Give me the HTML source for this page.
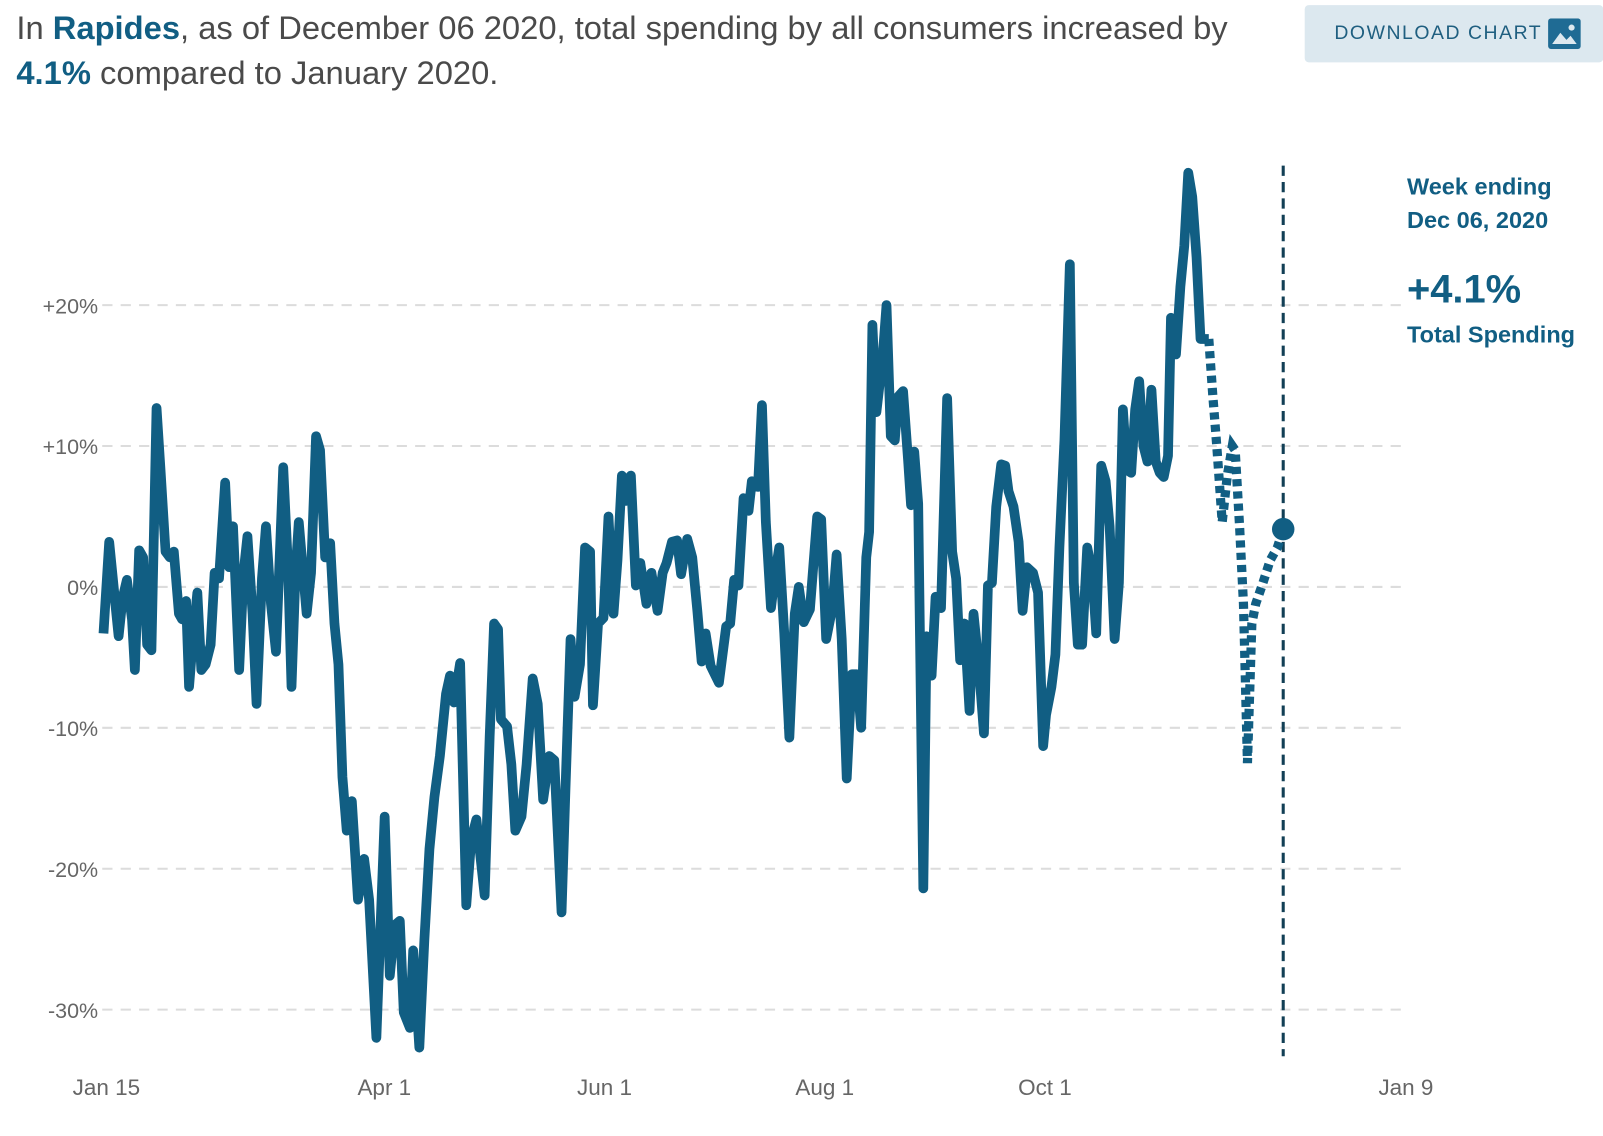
<!DOCTYPE html>
<html><head><meta charset="utf-8"><style>
html,body{margin:0;background:#fff;font-family:"Liberation Sans",sans-serif;width:1603px;height:1136px;overflow:hidden;}
#wrap{position:relative;width:1568px;height:1111px;overflow:visible;transform:scale(1.0225);transform-origin:0 0;}
.hdr{position:absolute;left:16px;top:5px;font-size:32px;line-height:44px;color:#4a4a4a;white-space:nowrap;}
.hdr b{color:#115e83;}
.btn{position:absolute;left:1276px;top:5px;width:292px;height:56px;background:#dce8ef;border-radius:4px;}
.btn span{position:absolute;left:29px;top:17px;font-size:19px;letter-spacing:1.5px;color:#1f5f80;}
.ann{position:absolute;left:1376px;color:#115e83;font-weight:bold;white-space:nowrap;}
</style></head><body>
<div id="wrap">
<div class="hdr">In <b>Rapides</b>, as of December 06 2020, total spending by all consumers increased by<br><b>4.1%</b> compared to January 2020.</div>
<div class="btn"><span>DOWNLOAD CHART</span>
<svg style="position:absolute;left:238px;top:13px" width="32" height="30"><rect x="0" y="0" width="32" height="30" rx="3" fill="#1f6b94"/><path d="M4 25 L12 14 L18 21 L22 17 L28 25 Z" fill="#dce8ef"/><circle cx="23" cy="9" r="3" fill="#dce8ef"/></svg></div>
<div class="ann" style="top:166px;font-size:23px;line-height:33px">Week ending<br>Dec 06, 2020</div>
<div class="ann" style="top:262px;font-size:39px">+4.1%</div>
<div class="ann" style="top:314px;font-size:23px">Total Spending</div>
<svg id="chart" width="1568" height="1111" style="position:absolute;left:0;top:0"></svg>
</div>
<script>
const days=[-0.8,0.8,2.5,3.4,4.5,5.7,7.1,7.9,9.1,10.2,11.3,12.5,13.9,15,16.4,17.6,18.7,20.1,21,22.1,22.9,24.1,25.2,26.3,27.5,28.9,30,31.2,32.9,34,35.1,36.8,38,39.1,40.5,41.6,43.1,44.2,45.6,47,49,50.4,51.3,52.4,53.3,55.5,56.7,58.1,59.2,60.6,62,63.2,64.3,65.4,66.6,68,69.7,71.4,72.8,74.8,75.9,77.1,78.5,79.9,81.3,82.4,84.1,85,86.7,88.1,89.5,90.9,92.4,94.1,95.2,96.3,98,99.7,101.1,102.5,104.8,106.2,107.4,108.5,109.3,111,112.2,113.3,115,116.4,118.1,119.5,121,122.7,124.1,126.1,127.2,128.6,129.7,131.2,132.6,134,134.8,136.2,137.7,139.1,140.5,141.6,142.8,143.9,145.3,146.7,147.9,149.6,151,152.7,154.1,155.2,156.7,158.1,159.2,160.9,162.3,163.7,164.9,166,167.4,169.7,171.7,172.8,173.9,175.1,176.5,177.9,178.8,180.5,181.6,182.7,184.1,185.3,186.4,187.8,189.2,190.7,191.8,193.2,194.9,196.9,198,199.4,201.1,202.3,203.7,205.1,206.5,207.9,209.1,210.5,211.3,212.2,213.3,215,216.1,217.3,218.4,219.3,220.7,222.1,222.9,223.8,224.9,226.3,227.2,228.6,229.7,231.2,232.9,234.3,235.4,236.5,237.7,239.1,240.2,241.6,243.1,244.2,245.3,246.5,247.9,249,249.9,251.3,252.7,253.8,255,256.7,258.1,259.5,260.3,261.8,262.9,264,265.4,266.9,268,269.1,270.3,271.7,273.1,274.2,275.6,276.8,277.9,279.3,280.5,281.6,282.7,283.9,285,286.1,287.3,288.4,289.5,290.7,291.8,292.9,294.1,294.9,296.3,297.5,298.6,299.7,300.8,302,303.1,304.2,305.4];
const values=[-3.3,3.2,-1.2,-3.5,-0.8,0.5,-2.3,-5.9,2.6,2.1,-4.1,-4.5,12.7,8.3,2.5,2.1,2.5,-1.9,-2.3,-1,-7.1,-3.3,-0.4,-5.9,-5.5,-4.1,1,0.6,7.4,1.4,4.3,-5.9,1,3.6,-1.9,-8.3,0.6,4.3,-1.2,-4.6,8.5,1,-7.1,1,4.6,-1.9,1,10.7,9.7,2.1,3.1,-2.6,-5.5,-13.5,-17.3,-15.2,-22.2,-19.3,-22.2,-32,-24.4,-16.3,-27.6,-24,-23.7,-30.2,-31.3,-25.8,-32.7,-25.1,-18.6,-14.9,-12,-7.6,-6.3,-8.2,-5.4,-22.6,-17.9,-16.5,-21.9,-10.6,-2.6,-3,-9.4,-9.9,-12.6,-17.3,-16.3,-12.6,-6.5,-8.3,-15.1,-12,-12.3,-23.1,-14.2,-3.7,-7.8,-5.5,2.8,2.5,-8.4,-2.6,-2.2,5,-1.9,1.9,7.9,6.1,7.9,0.1,1.7,-1.2,1,-1.7,1,1.7,3.2,3.3,0.9,3.4,2.1,-1.7,-5.3,-3.3,-5.6,-6.8,-2.8,-2.6,0.5,0.1,6.3,5.4,7.5,7.1,12.9,4.6,-1.5,1,2.8,-3.3,-10.7,-1.9,0,-2.5,-1.6,5,4.8,-3.7,-1.5,2.3,-3.7,-13.6,-6.2,-6.2,-10,2.1,3.9,18.6,12.4,16.2,20,10.7,10.4,13.5,13.9,9,5.8,9.6,5.9,-21.4,-3.5,-6.3,-0.7,-1.5,13.4,2.5,0.6,-5.2,-2.6,-8.8,-1.9,-5.4,-10.4,0.1,0.3,5.7,8.7,8.6,6.8,5.7,3.2,-1.7,1.4,1,-0.4,-11.3,-9.1,-7.1,-4.8,2.8,10.4,22.9,0.3,-4.1,-4.1,2.8,1,-3.3,8.6,7.5,4.3,-3.7,0.3,12.6,8.3,8.1,12.6,14.6,10,8.9,14,8.9,8.1,7.8,9.3,19.1,16.5,21.3,24.2,29.4,27.7,23.4,17.6,17.6,17.6];
const projDays=[305.4,306.5,307.6,309.1,310.5,311.9,312.7,313.9,315,316.1,317.3,318.4,320.4,322.4,324.4,326];
const projValues=[17.6,13.6,10,4.6,7.9,10,9.7,4.3,-1.2,-12.5,-2.6,-1.2,0.3,1.9,2.8,4.1];
const yTicks=[20,10,0,-10,-20,-30];
const yTickLabels=["+20%","+10%","0%","-10%","-20%","-30%"];
const xTickDays=[0,77,138,199,260,360];
const xTickLabels=["Jan 15","Apr 1","Jun 1","Aug 1","Oct 1","Jan 9"];
const markerDay=326, markerValue=4.1;

const X=d=>104+d*3.5306, Y=v=>574-v*13.78;
const svg=document.getElementById('chart');const NS='http://www.w3.org/2000/svg';
function mk(t,a){const e=document.createElementNS(NS,t);for(const k in a)e.setAttribute(k,a[k]);svg.appendChild(e);return e;}
yTicks.forEach((v,i)=>{
 const g=mk('line',{x1:100,x2:1376,y1:Y(v),y2:Y(v),stroke:'#dcdcdc','stroke-width':2,'stroke-dasharray':'10,8'});
 
 
 const t=mk('text',{x:96,y:Y(v)+8,'text-anchor':'end','font-size':21,fill:'#666','font-family':'Liberation Sans, sans-serif'});
 t.textContent=yTickLabels[i];
 
 
});
xTickDays.forEach((d,i)=>{
 const t=mk('text',{x:X(d),y:1071,'text-anchor':'middle','font-size':22,fill:'#666','font-family':'Liberation Sans, sans-serif'});
 t.textContent=xTickLabels[i];
 
 
});
const vl=mk('line',{x1:X(markerDay),x2:X(markerDay),y1:162,y2:1033,stroke:'#123f55','stroke-width':3,'stroke-dasharray':'10,6'});


const p=mk('path',{d:days.map((d,i)=>(i?'L':'M')+X(d).toFixed(1)+' '+Y(values[i]).toFixed(1)).join(''),fill:'none',stroke:'#115e83','stroke-width':9.5,'stroke-linejoin':'round'});


const pp=mk('path',{d:projDays.map((d,i)=>(i?'L':'M')+X(d).toFixed(1)+' '+Y(projValues[i]).toFixed(1)).join(''),fill:'none',stroke:'#115e83','stroke-width':9,'stroke-dasharray':'7,5'});


const c=mk('circle',{cx:X(markerDay),cy:Y(markerValue),r:11,fill:'#115e83'});


</script>
</body></html>
